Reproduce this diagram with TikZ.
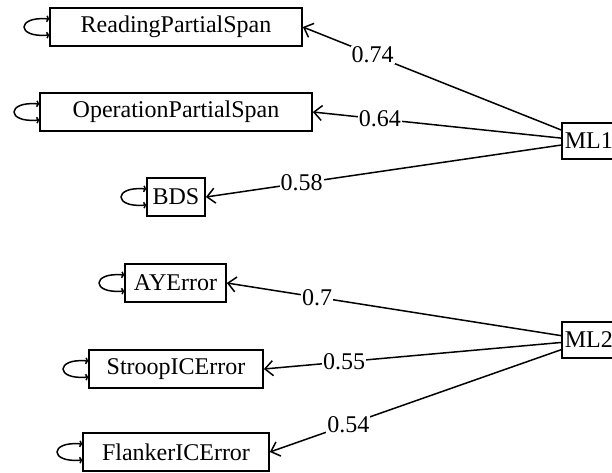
\documentclass[tikz,border=0pt]{standalone}
\usepackage{fontspec}
\setmainfont{Liberation Serif}
\usetikzlibrary{arrows.meta, positioning}

\begin{document}
\begin{tikzpicture}[x=1pt, y=-1pt,
    obs/.style={rectangle, draw, line width=1.7pt, minimum height=38pt, inner sep=2pt, font=\fontsize{24}{28}\selectfont},
    lat/.style={rectangle, draw, line width=1.7pt, minimum height=36pt, inner xsep=3pt, anchor=west, font=\fontsize{24}{28}\selectfont},
    load/.style={line width=1.5pt, -{Straight Barb[length=8pt,width=15pt]}},
    lbl/.style={fill=white, inner sep=1pt, pos=.73, font=\fontsize{24}{28}\selectfont},
    errloop/.style={line width=1.5pt, {Straight Barb[length=1.5pt,width=6pt]}-{Straight Barb[length=1.5pt,width=6pt]}}]
    \clip (0,0) rectangle (612,472);
    % Nodes
    \node [obs, minimum width=252pt] (read) at (176,27) {ReadingPartialSpan};
    \node [obs, minimum width=272pt] (oper) at (176,112) {OperationPartialSpan};
    \node [obs, minimum width=58pt] (bds) at (176,197) {BDS};
    \node [obs, minimum width=101pt] (ayerr) at (175.5,283) {AYError};
    \node [obs, minimum width=174pt] (stroop) at (176,369) {StroopICError};
    \node [obs, minimum width=186pt] (flank) at (176,452) {FlankerICError};
    \node [lat] (ml1) at (561,141) {ML1};
    \node [lat] (ml2) at (561,340) {ML2};

    % Edges
    \draw [load] (ml1) -- node [lbl] {0.74} (read.east);
    \draw [load] (ml1) -- node [lbl] {0.64} (oper.east);
    \draw [load] (ml1) -- node [lbl] {0.58} (bds.east);
    \draw [load] (ml2) -- node [lbl] {0.7} (ayerr.east);
    \draw [load] (ml2) -- node [lbl] {0.55} (stroop.east);
    \draw [load] (ml2) -- node [lbl] {0.54} (flank.east);

    % Error loops
    \foreach \n in {read, oper, bds, ayerr, stroop, flank}
        \draw [errloop] ([yshift=8pt]\n.west) .. controls +(-33,-3) and +(-33,3) .. ([yshift=-8pt]\n.west);
\end{tikzpicture}
\end{document}
